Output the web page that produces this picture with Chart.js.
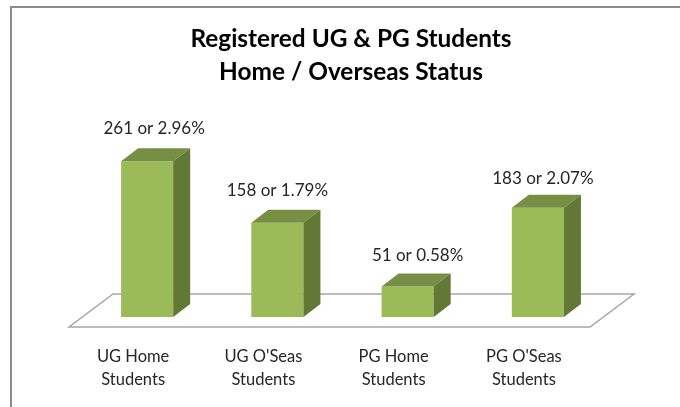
<!DOCTYPE html>
<html>
<head>
<meta charset="utf-8">
<script src="https://cdn.jsdelivr.net/npm/chart.js@4/dist/chart.umd.js"></script>
<style>
  html, body { margin: 0; padding: 0; background: #fff; overflow: hidden; }
  #frame { position: absolute; left: 10px; top: 6px; width: 670px; height: 401px; border-left: 2px solid #8c8c8c; border-top: 2px solid #8c8c8c; box-sizing: border-box; }
  #wrap { position: absolute; left: 22px; top: 0; width: 658px; height: 407px; }
</style>
</head>
<body>
<div id="frame"></div>
<div id="wrap"><canvas id="chart"></canvas></div>
<script>
const categories = [['UG Home', 'Students'], ["UG O'Seas", 'Students'], ['PG Home', 'Students'], ["PG O'Seas", 'Students']];
const students = [261, 158, 51, 183];
const percents = ['2.96%', '1.79%', '0.58%', '2.07%'];
const titleLines = ['Registered UG & PG Students', 'Home / Overseas Status'];

// hand placed in the original, so each label has its own nudge
const labelShiftX = [7, 0, 10, 5];
const labelShiftY = [-33, -32, -31, -29];

const DEPTH_X = 17;
const DEPTH_Y = 13;

const floorPlugin = {
  id: 'floor',
  beforeDatasetsDraw: function(chart) {
    const ctx = chart.ctx;
    const area = chart.chartArea;
    const y0 = chart.scales.y.getPixelForValue(0);
    ctx.save();
    ctx.beginPath();
    ctx.moveTo(area.left - 13, y0 + 10);
    ctx.lineTo(area.right - 13, y0 + 10);
    ctx.lineTo(area.right + 31, y0 - 23);
    ctx.lineTo(area.left + 31, y0 - 23);
    ctx.closePath();
    ctx.fillStyle = '#ffffff';
    ctx.fill();
    ctx.lineWidth = 1.5;
    ctx.strokeStyle = '#a6a6a6';
    ctx.stroke();
    ctx.restore();
  }
};

const boxPlugin = {
  id: 'box',
  afterDatasetsDraw: function(chart) {
    const ctx = chart.ctx;
    chart.getDatasetMeta(0).data.forEach(function(bar, i) {
      const left = bar.x - bar.width / 2;
      const right = bar.x + bar.width / 2;
      // top face
      ctx.beginPath();
      ctx.moveTo(left, bar.y);
      ctx.lineTo(left + DEPTH_X, bar.y - DEPTH_Y);
      ctx.lineTo(right + DEPTH_X, bar.y - DEPTH_Y);
      ctx.lineTo(right, bar.y);
      ctx.closePath();
      ctx.fillStyle = '#778f45';
      ctx.fill();
      // side face
      ctx.beginPath();
      ctx.moveTo(right, bar.y);
      ctx.lineTo(right + DEPTH_X, bar.y - DEPTH_Y);
      ctx.lineTo(right + DEPTH_X, bar.base - DEPTH_Y);
      ctx.lineTo(right, bar.base);
      ctx.closePath();
      ctx.fillStyle = '#647836';
      ctx.fill();
      // value label
      ctx.font = '17px Lato, "Open Sans", sans-serif';
      ctx.fillStyle = '#262626';
      ctx.textAlign = 'center';
      ctx.textBaseline = 'middle';
      ctx.fillText(students[i] + ' or ' + percents[i], bar.x + labelShiftX[i], bar.y + labelShiftY[i]);
    });
  }
};

new Chart(document.getElementById('chart'), {
  type: 'bar',
  data: {
    labels: categories,
    datasets: [{
      data: students,
      backgroundColor: '#9bbb59',
      barPercentage: 0.4,
      categoryPercentage: 1
    }]
  },
  options: {
    responsive: true,
    maintainAspectRatio: false,
    animation: false,
    layout: { padding: { left: 0, right: 0, top: 23, bottom: 0 } },
    plugins: {
      legend: { display: false },
      tooltip: { enabled: false },
      title: {
        display: true,
        text: titleLines,
        color: '#000000',
        font: { family: 'Lato, "Open Sans", sans-serif', size: 24.4, weight: 'bold', lineHeight: 1.35 },
        padding: { top: 0, bottom: 0 }
      }
    },
    scales: {
      x: {
        grid: { display: false },
        border: { display: false },
        afterFit: function(scale) { scale.height = 90; },
        ticks: {
          color: '#262626',
          font: { family: 'Lato, "Open Sans", sans-serif', size: 16.5, lineHeight: 1.39 },
          labelOffset: -14,
          maxRotation: 0,
          padding: 20
        }
      },
      // blank side axes keep the plot off centre from the title
      y: {
        min: 0,
        max: 382,
        grid: { display: false },
        border: { display: false },
        ticks: { display: false },
        afterFit: function(scale) { scale.width = 60; }
      },
      yRight: {
        position: 'right',
        grid: { display: false },
        border: { display: false },
        ticks: { display: false },
        afterFit: function(scale) { scale.width = 77; }
      }
    }
  },
  plugins: [floorPlugin, boxPlugin]
});
</script>
</body>
</html>
